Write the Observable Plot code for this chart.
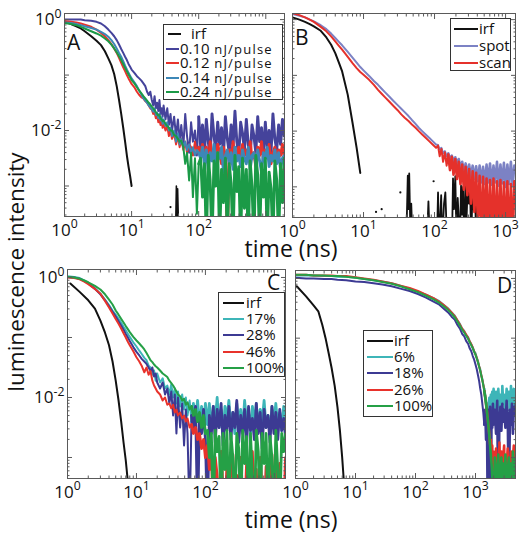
<!DOCTYPE html>
<html>
<head>
<meta charset="utf-8">
<script src="https://cdn.jsdelivr.net/npm/d3@7"></script>
<script src="https://cdn.jsdelivr.net/npm/@observablehq/plot@0.6"></script>
<style>
  html, body { margin: 0; padding: 0; background: #fff; }
  #fig { position: relative; width: 521px; height: 538px; overflow: hidden; font-family: "Open Sans", sans-serif; color: #111; background: #fff; }
  #fig > svg { position: absolute; left: 0; top: 0; }
  .legend { position: absolute; box-sizing: border-box; border: 1px solid #333; background: #fff; font-size: 15px; color: #111; }
  .legend .sw { position: absolute; height: 2px; }
  .legend .tx { position: absolute; white-space: nowrap; line-height: 14px; height: 14px; }
  .legend .unit { font-size: 13px; letter-spacing: 1.2px; }
</style>
</head>
<body>
<div id="fig"></div>
<script>
// ================= DATA (values in log10 of luminescence intensity) =================
// ---------- Panel A ----------
const A_t = [1, 1.25, 1.5, 1.75, 2, 2.5, 3, 3.5, 4, 4.5, 5, 5.5, 6, 6.5, 7, 7.5, 8, 8.5, 9, 9.5, 10,
  11, 12, 13, 14, 15, 16, 17, 18, 19, 20, 21, 22, 23, 24, 25, 26, 27, 28, 29, 30,
  32, 34, 36, 38, 40, 43, 46, 49, 52, 55, 59, 63, 67, 72, 77, 82, 88, 94, 100,
  107, 114, 122, 130, 139, 148, 158, 169, 180, 192, 205, 219, 234, 250, 267, 285, 304, 325, 347, 370,
  395, 422, 450, 480, 513, 547, 584, 623, 665, 710, 758, 809, 864, 922, 984, 1050, 1121, 1197, 1278, 1364,
  1456, 1554, 1659, 1771, 1890];
const A_irf_t = [1, 1.25, 1.5, 1.75, 2, 2.5, 3, 3.5, 4, 4.5, 5, 5.5, 6, 6.5, 7, 7.5, 8, 8.5, 9, 9.5, 10];
const A_irf = [-0.03, -0.08, -0.12, -0.16, -0.21, -0.3, -0.38, -0.46, -0.57, -0.7, -0.82, -0.98, -1.2, -1.45, -1.7, -1.95, -2.2, -2.45, -2.65, -2.82, -3.0];
const A_irfTail_t = [45, 46.5, 47.5, 48.5, 49.5, 51, 262, 267, 272];
const A_irfTail = [-4, -3.0, -3.8, -3.05, -3.5, -4, -4, -3.4, -4];
const A_irfDot_t = [38];
const A_irfDot = [-3.38];
const A_p010 = [0.0, 0.0, 0.0, 0.0, -0.01, -0.02, -0.04, -0.07, -0.12, -0.18, -0.24, -0.3, -0.37, -0.45, -0.53, -0.6, -0.67, -0.73, -0.8, -0.85, -0.9,
  -0.96, -1.02, -1.06, -1.1, -1.15, -1.2, -1.3, -1.36, -1.3, -1.45, -1.55, -1.38, -1.6, -1.5, -1.65, -1.45, -1.7, -1.6, -1.75, -1.55,
  -1.8, -1.6, -1.9, -1.7, -2.0, -1.75, -2.1, -1.8, -2.2, -1.9, -2.3, -1.7, -2.1, -2.4, -1.85, -2.2, -2.0, -2.45, -1.75,
  -2.3, -1.9, -2.4, -1.8, -2.2, -2.5, -1.7, -2.1, -2.35, -1.85, -2.25, -1.95, -2.45, -1.75, -2.15, -2.4, -1.9, -2.3, -1.65, -2.2,
  -2.45, -1.85, -2.05, -2.35, -1.8, -2.25, -2.5, -1.9, -2.1, -2.4, -1.75, -2.2, -1.95, -2.45, -1.85, -2.3, -2.0, -2.4, -1.7, -2.15,
  -2.35, -1.9, -2.25, -1.8, -2.1];
const A_p012 = [-0.03, -0.04, -0.05, -0.07, -0.09, -0.13, -0.18, -0.24, -0.3, -0.37, -0.44, -0.52, -0.6, -0.69, -0.78, -0.86, -0.93, -1.0, -1.06, -1.11, -1.16,
  -1.22, -1.3, -1.36, -1.4, -1.42, -1.47, -1.5, -1.55, -1.6, -1.62, -1.7, -1.68, -1.78, -1.72, -1.85, -1.8, -1.9, -1.82, -1.95, -1.88,
  -2.0, -1.92, -2.1, -2.0, -2.15, -2.05, -2.25, -2.1, -2.3, -2.15, -2.35, -2.2, -2.4, -2.25, -2.3, -2.45, -2.2, -2.4, -2.3,
  -2.4, -2.25, -2.5, -2.3, -2.6, -2.2, -2.45, -2.35, -2.55, -2.25, -2.4, -2.6, -2.3, -2.45, -4, -2.35, -2.55, -2.2, -2.5, -2.4,
  -2.3, -2.6, -2.25, -2.45, -2.35, -2.55, -2.2, -2.5, -2.4, -2.65, -2.3, -2.45, -2.2, -2.55, -2.35, -2.5, -2.25, -2.6, -2.4, -2.3,
  -2.5, -2.35, -2.45, -2.25, -2.5];
const A_p014 = [-0.05, -0.06, -0.08, -0.1, -0.12, -0.15, -0.18, -0.22, -0.26, -0.31, -0.37, -0.44, -0.52, -0.6, -0.67, -0.75, -0.83, -0.9, -0.96, -1.01, -1.06,
  -1.13, -1.2, -1.28, -1.35, -1.42, -1.46, -1.5, -1.55, -1.58, -1.62, -1.66, -1.6, -1.72, -1.68, -1.78, -1.7, -1.82, -1.76, -1.88, -1.8,
  -1.92, -1.85, -2.0, -1.95, -2.1, -2.0, -2.2, -2.05, -2.25, -2.15, -2.3, -2.2, -2.35, -2.25, -2.4, -2.3, -2.45, -2.35, -2.4,
  -2.5, -2.3, -2.6, -2.35, -2.7, -2.4, -2.55, -2.25, -2.65, -2.4, -2.5, -2.3, -2.75, -2.45, -2.35, -2.6, -2.4, -2.7, -2.3, -2.55,
  -2.45, -2.65, -2.35, -2.5, -2.6, -2.3, -2.7, -2.45, -2.4, -2.6, -2.35, -2.55, -2.75, -2.4, -2.5, -2.3, -2.65, -2.45, -2.55, -2.35,
  -2.6, -2.4, -2.7, -2.5, -2.45];
const A_p024 = [-0.06, -0.08, -0.1, -0.13, -0.16, -0.21, -0.25, -0.29, -0.34, -0.39, -0.45, -0.52, -0.59, -0.66, -0.73, -0.8, -0.87, -0.93, -0.99, -1.04, -1.09,
  -1.15, -1.22, -1.28, -1.33, -1.38, -1.42, -1.46, -1.5, -1.53, -1.57, -1.6, -1.63, -1.67, -1.7, -1.73, -1.72, -1.78, -1.8, -1.83, -1.82,
  -1.88, -1.92, -1.95, -2.0, -2.0, -2.08, -2.1, -2.15, -2.2, -2.18, -2.3, -2.6, -2.4, -2.9, -2.4, -3.2, -2.5, -3.5, -2.6,
  -2.5, -3.2, -2.6, -4, -2.45, -2.9, -4, -2.55, -3.0, -2.4, -4, -2.7, -3.3, -2.5, -4, -2.6, -2.95, -4, -2.45, -3.1,
  -2.65, -4, -2.5, -3.4, -2.7, -4, -2.55, -3.0, -4, -2.45, -2.8, -4, -2.6, -3.2, -2.5, -4, -2.75, -3.05, -4, -2.55,
  -2.9, -4, -2.6, -3.3, -2.5];
const A_names = ["irf", "0.10", "0.12", "0.14", "0.24"];
const A_unit = "nJ/pulse";
const A_xTicks = [1, 10, 100];
const A_xTickLabels = ["10^0", "10^1", "10^2"];
const A_yTicks = [1, 0.01];
const A_yTickLabels = ["10^0", "10^-2"];

// ---------- Panel B ----------
const B_t = [1, 1.25, 1.5, 1.75, 2, 2.5, 3, 3.5, 4, 4.5, 5, 6, 7, 8, 9, 10,
  12, 14, 16, 18, 20, 23, 26, 30, 34, 38, 43, 48, 54, 60, 67, 75, 84, 94, 105,
  112, 118, 125, 132, 140, 148, 156, 165, 175, 185, 196, 207, 219, 232, 245, 259, 274, 290, 307, 325,
  344, 364, 385, 407, 431, 456, 482, 510, 540, 571, 604, 639, 676, 715, 757, 801, 847, 896, 948, 1003,
  1061, 1123, 1188, 1257, 1330];
const B_irf_t = [1, 1.25, 1.5, 1.75, 2, 2.5, 3, 3.5, 4, 4.5, 5, 6, 7, 8, 9];
const B_irf = [0.04, 0.0, -0.04, -0.08, -0.12, -0.2, -0.32, -0.45, -0.6, -0.77, -0.93, -1.35, -1.85, -2.3, -2.75];
const B_irfTail_t = [40, 42, 43, 44, 46, 47, 49, 78, 82, 86, 108, 112, 116, 124, 128, 136, 142, 150, 176, 182, 188, 196, 204, 212,
  228, 236, 244, 252, 262, 272, 282, 292, 304, 316, 328, 342, 356, 370, 386, 402, 420, 440, 462, 490, 520, 560, 600, 640];
const B_irfTail = [-4, -2.8, -3.4, -2.76, -4, -3.3, -4, -4, -3.26, -4, -4, -3.1, -4, -3.15, -4, -3.3, -3.1, -4, -4, -2.85, -3.4, -2.81, -4, -3.2,
  -4, -2.98, -3.5, -3.0, -4, -2.95, -3.6, -3.05, -3.3, -2.98, -4, -3.1, -3.4, -3.0, -4, -3.15, -3.5, -3.1, -4, -3.3, -4, -3.35, -4, -4];
const B_irfDot_t = [15, 18, 33, 97];
const B_irfDot = [-3.45, -3.4, -3.1, -2.9];
const B_spot = [0.1, 0.07, 0.04, 0.0, -0.03, -0.1, -0.17, -0.25, -0.33, -0.4, -0.46, -0.58, -0.68, -0.77, -0.85, -0.91,
  -1.01, -1.1, -1.17, -1.24, -1.3, -1.38, -1.45, -1.53, -1.6, -1.66, -1.73, -1.8, -1.87, -1.94, -2.0, -2.06, -2.12, -2.18, -2.24,
  -2.25, -2.33, -2.3, -2.4, -2.36, -2.45, -2.4, -2.5, -2.44, -2.55, -2.47, -2.6, -2.5, -2.66, -2.55, -2.72, -2.58, -2.78, -2.6, -2.82,
  -2.62, -2.86, -2.63, -2.9, -2.62, -2.92, -2.64, -2.95, -2.6, -2.92, -2.58, -2.96, -2.62, -2.92, -2.55, -2.98, -2.6, -2.94, -2.57, -3.0,
  -2.6, -2.95, -2.55, -2.97, -2.62];
const B_scan = [0.12, 0.08, 0.04, 0.0, -0.04, -0.13, -0.21, -0.3, -0.39, -0.47, -0.54, -0.67, -0.78, -0.87, -0.94, -0.99,
  -1.08, -1.17, -1.26, -1.33, -1.39, -1.47, -1.54, -1.62, -1.7, -1.76, -1.82, -1.88, -1.94, -2.0, -2.06, -2.12, -2.18, -2.24, -2.3,
  -2.26, -2.45, -2.32, -2.55, -2.38, -2.62, -2.42, -2.7, -2.46, -2.78, -2.5, -2.86, -2.55, -2.95, -2.6, -3.05, -2.64, -3.15, -2.68, -3.3,
  -2.72, -3.45, -2.75, -3.6, -2.8, -4, -2.82, -3.7, -2.85, -4, -2.88, -4, -2.85, -4, -2.9, -4, -2.88, -4, -2.92, -4,
  -2.9, -4, -2.95, -4, -2.9];
const B_names = ["irf", "spot", "scan"];
const B_xTicks = [1, 10, 100, 1000];
const B_xTickLabels = ["10^0", "10^1", "10^2", "10^3"];

// ---------- Panel C ----------
const C_t = [1, 1.25, 1.5, 1.75, 2, 2.5, 3, 3.5, 4, 4.5, 5, 5.5, 6, 6.5, 7, 7.5, 8, 9, 10,
  11, 12, 13, 14, 15, 16, 17, 18, 19, 20, 22, 24, 26, 28, 30,
  32, 34, 36, 38, 40, 43, 46, 49, 52, 55, 59, 63, 67, 72, 77, 82, 88, 94, 100,
  107, 114, 122, 130, 139, 148, 158, 169, 180, 192, 205, 219, 234, 250, 267, 285, 304, 325, 347, 370,
  395, 422, 450, 480, 513, 547, 584, 623, 665, 710, 758, 809, 864, 922, 984, 1050, 1121, 1197, 1278, 1364, 1450];
const C_irf_t = [1.1, 1.5, 2, 2.5, 3, 3.5, 4, 4.5, 5, 5.5, 6, 6.5, 7, 7.5, 8];
const C_irf = [-0.1, -0.24, -0.38, -0.52, -0.72, -0.92, -1.13, -1.4, -1.72, -2.05, -2.4, -2.75, -3.05, -3.4, -3.8];
const C_17 = [0.02, 0.01, -0.01, -0.05, -0.09, -0.18, -0.27, -0.37, -0.46, -0.55, -0.62, -0.69, -0.75, -0.82, -0.88, -0.94, -0.99, -1.08, -1.15,
  -1.22, -1.28, -1.34, -1.38, -1.47, -1.5, -1.62, -1.55, -1.72, -1.6, -1.75, -1.68, -1.85, -1.8, -1.95,
  -1.78, -2.0, -1.85, -2.1, -1.9, -2.15, -1.95, -2.2, -2.0, -2.3, -2.05, -2.4, -2.1, -2.35, -2.05, -2.45, -2.15, -2.5, -2.1,
  -2.45, -2.1, -2.55, -2.15, -2.4, -2.0, -2.5, -2.2, -2.6, -2.15, -2.35, -2.05, -2.5, -2.25, -2.6, -2.1, -2.45, -2.2, -2.55, -2.05,
  -2.4, -2.25, -2.6, -2.15, -2.45, -2.1, -2.55, -2.2, -2.4, -2.05, -2.5, -2.3, -2.6, -2.15, -2.45, -2.1, -2.5, -2.25, -2.55, -2.15, -2.4];
const C_28 = [0.01, 0.0, -0.02, -0.06, -0.1, -0.19, -0.28, -0.38, -0.48, -0.57, -0.65, -0.73, -0.8, -0.87, -0.94, -1.0, -1.06, -1.16, -1.24,
  -1.3, -1.36, -1.4, -1.44, -1.5, -1.56, -1.5, -1.65, -1.6, -1.75, -1.85, -1.75, -1.95, -1.85, -2.1,
  -1.9, -2.3, -1.95, -2.6, -2.0, -2.5, -2.1, -2.8, -2.2, -2.6, -4, -2.3, -2.5, -2.15, -4, -2.3, -2.6, -2.2, -2.7,
  -4, -2.3, -2.6, -2.15, -2.75, -2.2, -2.5, -2.1, -2.8, -2.3, -2.55, -2.15, -2.7, -2.25, -2.5, -2.05, -2.75, -2.3, -2.6, -2.2,
  -2.8, -2.15, -2.55, -2.35, -2.7, -2.1, -2.6, -2.25, -2.85, -2.2, -2.5, -2.3, -2.75, -2.15, -2.6, -2.25, -2.7, -2.2, -2.55, -2.35, -2.65];
const C_46 = [0.0, -0.01, -0.03, -0.07, -0.11, -0.19, -0.27, -0.39, -0.5, -0.6, -0.69, -0.77, -0.85, -0.93, -1.0, -1.07, -1.13, -1.23, -1.33,
  -1.4, -1.48, -1.58, -1.5, -1.62, -1.56, -1.72, -1.8, -1.85, -1.9, -1.95, -2.05, -2.0, -2.12, -2.1,
  -2.18, -2.12, -2.25, -2.2, -2.3, -2.25, -2.35, -2.3, -2.4, -2.35, -2.5, -2.45, -2.6, -2.5, -2.7, -2.6, -2.85, -2.7, -3.0,
  -2.8, -3.2, -2.9, -4, -3.0, -3.3, -4, -2.9, -3.5, -4, -3.1, -4, -3.2, -2.95, -4, -3.3, -4, -3.0, -3.6, -4,
  -3.1, -4, -3.4, -2.9, -4, -3.2, -4, -3.0, -3.5, -4, -3.15, -4, -3.3, -2.95, -4, -3.2, -4, -3.1, -3.6, -4, -3.0];
const C_100 = [0.01, 0.0, -0.02, -0.05, -0.08, -0.14, -0.2, -0.28, -0.37, -0.45, -0.55, -0.62, -0.69, -0.75, -0.81, -0.86, -0.91, -0.99, -1.05,
  -1.1, -1.15, -1.2, -1.26, -1.32, -1.38, -1.41, -1.45, -1.48, -1.5, -1.55, -1.6, -1.63, -1.66, -1.72,
  -1.76, -1.8, -1.85, -1.9, -1.95, -1.98, -2.05, -2.02, -2.12, -2.08, -2.2, -2.15, -2.3, -2.2, -2.4, -2.25, -2.5, -2.3, -2.6,
  -2.55, -3.0, -2.6, -4, -2.55, -2.9, -2.65, -4, -2.6, -3.2, -2.55, -4, -2.6, -3.0, -4, -2.6, -2.85, -4, -2.55, -3.1,
  -2.65, -4, -2.6, -3.3, -4, -2.55, -2.9, -4, -2.6, -3.1, -2.6, -4, -2.65, -3.0, -4, -2.55, -3.2, -4, -2.6, -2.9, -2.6];
const C_names = ["irf", "17%", "28%", "46%", "100%"];
const C_xTicks = [1, 10, 100];
const C_xTickLabels = ["10^0", "10^1", "10^2"];
const C_yTicks = [1, 0.01];
const C_yTickLabels = ["10^0", "10^-2"];

// ---------- Panel D ----------
const D_t = [1, 1.5, 2, 3, 4, 5, 7, 10, 14, 20, 28, 40, 56, 80, 110, 150,
  200, 250, 300, 350, 400, 450, 500, 550, 600, 650, 700, 750, 800, 850, 900, 950, 1000, 1050, 1100, 1150,
  1200, 1250, 1300, 1350, 1400, 1450, 1500, 1550, 1600, 1650, 1700, 1750, 1800, 1850, 1900, 1950, 2000,
  2100, 2200, 2300, 2400, 2500, 2600, 2700, 2800, 2900, 3000,
  3150, 3300, 3450, 3600, 3750, 3900, 4050, 4200, 4350, 4500, 4700];
const D_irf_t = [1.05, 1.5, 2, 2.4, 2.8, 3.2, 3.6, 4, 4.5, 5, 5.5, 6, 6.5];
const D_irf = [-0.13, -0.3, -0.45, -0.55, -0.78, -1.02, -1.27, -1.5, -1.8, -2.15, -2.55, -3.0, -3.5];
const D_6 = [0.05, 0.05, 0.05, 0.04, 0.04, 0.03, 0.03, 0.01, -0.01, -0.03, -0.05, -0.08, -0.12, -0.17, -0.22, -0.27,
  -0.33, -0.38, -0.45, -0.5, -0.57, -0.62, -0.7, -0.76, -0.84, -0.88, -0.95, -0.98, -1.05, -1.1, -1.15, -1.22, -1.25, -1.33, -1.38, -1.47,
  -1.52, -1.62, -1.68, -1.78, -1.85, -1.97, -2.05, -2.2, -2.1, -2.35, -2.0, -2.4, -1.95, -2.3, -1.9, -2.25, -1.85,
  -2.2, -1.9, -2.3, -1.85, -2.15, -1.95, -2.35, -1.8, -2.1, -1.95,
  -2.25, -1.85, -2.05, -1.9, -2.3, -1.8, -2.1, -2.0, -1.85, -2.2, -1.9];
const D_18 = [0.01, 0.0, 0.0, -0.01, -0.01, -0.02, -0.03, -0.05, -0.06, -0.08, -0.1, -0.13, -0.17, -0.21, -0.26, -0.32,
  -0.39, -0.44, -0.51, -0.57, -0.64, -0.69, -0.78, -0.84, -0.93, -0.97, -1.05, -1.09, -1.17, -1.22, -1.3, -1.36, -1.44, -1.52, -1.62, -1.72,
  -1.85, -1.95, -2.1, -2.25, -2.45, -2.2, -2.7, -2.3, -4, -2.2, -2.6, -2.15, -4, -2.3, -2.5, -2.1, -2.45,
  -2.2, -2.6, -2.05, -4, -2.35, -2.15, -2.55, -2.1, -2.4, -2.2,
  -2.5, -2.05, -2.35, -4, -2.2, -2.45, -2.1, -2.6, -2.15, -2.3, -2.1];
const D_26 = [0.06, 0.06, 0.05, 0.05, 0.05, 0.04, 0.04, 0.02, 0.0, -0.02, -0.05, -0.08, -0.12, -0.16, -0.21, -0.27,
  -0.33, -0.39, -0.45, -0.51, -0.57, -0.63, -0.7, -0.77, -0.84, -0.89, -0.94, -0.99, -1.05, -1.1, -1.16, -1.22, -1.27, -1.33, -1.4, -1.47,
  -1.54, -1.62, -1.7, -1.78, -1.88, -1.98, -2.1, -2.22, -2.35, -2.48, -2.62, -2.78, -2.7, -3.0, -2.8, -3.4, -2.9,
  -4, -2.85, -3.2, -4, -2.75, -3.5, -2.9, -4, -3.0, -2.8,
  -4, -3.1, -2.85, -4, -3.3, -2.9, -4, -3.0, -2.8, -4, -3.2];
const D_100 = [0.06, 0.06, 0.05, 0.05, 0.04, 0.04, 0.03, 0.01, -0.01, -0.03, -0.06, -0.09, -0.13, -0.18, -0.23, -0.29,
  -0.35, -0.41, -0.47, -0.53, -0.59, -0.65, -0.72, -0.79, -0.86, -0.91, -0.96, -1.01, -1.07, -1.12, -1.17, -1.23, -1.28, -1.34, -1.41, -1.48,
  -1.55, -1.63, -1.71, -1.79, -1.89, -1.99, -2.11, -2.23, -2.36, -2.49, -2.64, -2.8, -2.95, -3.1, -3.3, -3.5, -4,
  -3.0, -4, -3.2, -2.95, -4, -3.4, -3.0, -4, -3.1, -4,
  -2.95, -4, -3.2, -3.0, -4, -3.1, -4, -2.9, -3.3, -4, -3.0];
const D_names = ["irf", "6%", "18%", "26%", "100%"];
const D_xTicks = [1, 10, 100, 1000];
const D_xTickLabels = ["10^0", "10^1", "10^2", "10^3"];

// ---------- Colours ----------
const IRF = "#111111";
const A_colors = [IRF, "#45439b", "#e8322b", "#3d87b7", "#1b9a47"];
const B_colors = [IRF, "#7c82c4", "#e5312b"];
const CD_colors = [IRF, "#3db5b8", "#3c3a93", "#e8322b", "#25a046"];
const FRAME = "#5a5a5a";

// ================= DRAWING =================
const W = 521, H = 538;
const fig = document.getElementById("fig");

function rows(times, logs) {
  return times.map((t, i) => ({t, v: logs[i] == null ? NaN : Math.pow(10, logs[i])}));
}
function decades([a, b]) {
  const out = [];
  for (let e = Math.floor(Math.log10(a)); e <= Math.ceil(Math.log10(b)); e++) {
    const v = Math.pow(10, e);
    if (v >= a * 0.999 && v <= b * 1.001) out.push(v);
  }
  return out;
}
function minors([a, b]) {
  const out = [];
  for (let e = Math.floor(Math.log10(a)); e <= Math.ceil(Math.log10(b)); e++)
    for (let m = 2; m <= 9; m++) { const v = m * Math.pow(10, e); if (v > a && v < b) out.push(v); }
  return out;
}

function panel(p) {
  const tk = {stroke: FRAME, fill: "none", label: null};
  const xMaj = decades(p.xDomain), yMaj = decades(p.yDomain);
  const xMin = minors(p.xDomain), yMin = minors(p.yDomain);
  const xl = new Map(p.xTicks.map((v, i) => [v, p.xTickLabels[i]]));
  const yl = new Map((p.yTicks || []).map((v, i) => [v, p.yTickLabels[i]]));
  const marks = [];
  p.lines.forEach(s => {
    const r = rows(s.t, s.v);
    const w = s.w || 2;
    if (p.tailFrom && !s.w) {
      // the noisy photon-counting tail is drawn with a slightly heavier pen
      const k = r.findIndex(d => d.t >= p.tailFrom);
      marks.push(Plot.line(r.slice(0, k + 1), {x: "t", y: "v", stroke: s.color, strokeWidth: w, clip: true}));
      marks.push(Plot.line(r.slice(k), {x: "t", y: "v", stroke: s.color, strokeWidth: p.tailWidth, clip: true}));
    } else {
      marks.push(Plot.line(r, {x: "t", y: "v", stroke: s.color, strokeWidth: w, clip: true}));
    }
  });
  (p.dots || []).forEach(s => marks.push(Plot.dot(rows(s.t, s.v), {x: "t", y: "v", r: 1.1, fill: s.color, stroke: null, clip: true})));
  marks.push(
    Plot.frame({stroke: FRAME, strokeWidth: 1}),
    Plot.axisX(xMaj, {anchor: "bottom", tickSize: -5, ...tk}),
    Plot.axisX(xMaj, {anchor: "top", tickSize: -5, ...tk}),
    Plot.axisX(xMin, {anchor: "bottom", tickSize: -2.5, ...tk}),
    Plot.axisX(xMin, {anchor: "top", tickSize: -2.5, ...tk}),
    Plot.axisY(yMaj, {anchor: "left", tickSize: -5, ...tk}),
    Plot.axisY(yMaj, {anchor: "right", tickSize: -5, ...tk}),
    Plot.axisY(yMin, {anchor: "left", tickSize: -2.5, ...tk}),
    Plot.axisY(yMin, {anchor: "right", tickSize: -2.5, ...tk}),
    Plot.axisX(p.xTicks, {anchor: "bottom", tickSize: 0, tickPadding: 7, tickFormat: d => xl.get(d), label: null, fill: "#111"})
  );
  if (p.yTicks) marks.push(Plot.axisY(p.yTicks, {anchor: "left", tickSize: 0, tickPadding: 3, tickFormat: d => yl.get(d), label: null, fill: "#111"}));
  const svg = Plot.plot({
    width: W, height: H,
    marginLeft: p.left, marginRight: W - p.right, marginTop: p.top, marginBottom: H - p.bottom,
    x: {type: "log", domain: p.xDomain},
    y: {type: "log", domain: p.yDomain},
    style: {background: "none", fontFamily: "'Open Sans', sans-serif", fontSize: "17px", color: "#111", overflow: "visible"},
    marks
  });
  // superscript exponents on tick labels
  d3.select(svg).selectAll("text").each(function () {
    const m = this.textContent.match(/^10\^(.+)$/);
    if (!m) return;
    this.textContent = "10";
    const ts = document.createElementNS("http://www.w3.org/2000/svg", "tspan");
    ts.setAttribute("dy", "-0.6em");
    ts.setAttribute("font-size", "0.72em");
    ts.textContent = m[1];
    this.appendChild(ts);
  });
  fig.appendChild(svg);
}

const YD_AB = [Math.pow(10, -3.55), Math.pow(10, 0.11)];
const YD_CD = [Math.pow(10, -3.35), Math.pow(10, 0.133)];

panel({left: 64, right: 284, top: 13, bottom: 216, xDomain: [1, 1900], yDomain: YD_AB,
  xTicks: A_xTicks, xTickLabels: A_xTickLabels, yTicks: A_yTicks, yTickLabels: A_yTickLabels,
  tailFrom: 100, tailWidth: 2.9,
  lines: [
    {t: A_irf_t, v: A_irf, color: A_colors[0], w: 2},
    {t: A_irfTail_t, v: A_irfTail, color: A_colors[0], w: 1.6},
    {t: A_t, v: A_p010, color: A_colors[1]},
    {t: A_t, v: A_p012, color: A_colors[2]},
    {t: A_t, v: A_p014, color: A_colors[3]},
    {t: A_t, v: A_p024, color: A_colors[4]}
  ],
  dots: [{t: A_irfDot_t, v: A_irfDot, color: IRF}]
});
panel({left: 292, right: 515, top: 13, bottom: 217, xDomain: [1, 1380], yDomain: YD_AB,
  xTicks: B_xTicks, xTickLabels: B_xTickLabels,
  tailFrom: 150, tailWidth: 2.6,
  lines: [
    {t: B_irf_t, v: B_irf, color: B_colors[0], w: 2},
    {t: B_irfTail_t, v: B_irfTail, color: B_colors[0], w: 1.8},
    {t: B_t, v: B_spot, color: B_colors[1]},
    {t: B_t, v: B_scan, color: B_colors[2]}
  ],
  dots: [{t: B_irfDot_t, v: B_irfDot, color: IRF}]
});
panel({left: 67, right: 285, top: 269, bottom: 478, xDomain: [1, 1450], yDomain: YD_CD,
  xTicks: C_xTicks, xTickLabels: C_xTickLabels, yTicks: C_yTicks, yTickLabels: C_yTickLabels,
  tailFrom: 60, tailWidth: 2.8,
  lines: [
    {t: C_irf_t, v: C_irf, color: CD_colors[0], w: 2},
    {t: C_t, v: C_17, color: CD_colors[1]},
    {t: C_t, v: C_28, color: CD_colors[2]},
    {t: C_t, v: C_46, color: CD_colors[3]},
    {t: C_t, v: C_100, color: CD_colors[4]}
  ]
});
panel({left: 295, right: 515, top: 270, bottom: 478, xDomain: [1, 4640], yDomain: YD_CD,
  xTicks: D_xTicks, xTickLabels: D_xTickLabels,
  tailFrom: 1400, tailWidth: 2.6,
  lines: [
    {t: D_irf_t, v: D_irf, color: CD_colors[0], w: 2},
    {t: D_t, v: D_6, color: CD_colors[1]},
    {t: D_t, v: D_18, color: CD_colors[2]},
    {t: D_t, v: D_26, color: CD_colors[3]},
    {t: D_t, v: D_100, color: CD_colors[4]}
  ]
});

// ---------- Legends ----------
function legend(box, names, colors, unit) {
  const div = document.createElement("div");
  div.className = "legend";
  Object.assign(div.style, {left: box.left + "px", top: box.top + "px", width: box.width + "px", height: box.height + "px"});
  names.forEach((name, i) => {
    const cy = box.row0 + i * box.dy;
    const first = i === 0 && box.irf;
    const x0 = first ? box.irf.x0 : box.x0, x1 = first ? box.irf.x1 : box.x1, tx = first ? box.irf.tx : box.tx;
    const sw = document.createElement("div");
    sw.className = "sw";
    Object.assign(sw.style, {left: x0 + "px", width: (x1 - x0) + "px", top: (cy - 1) + "px", background: colors[i]});
    div.appendChild(sw);
    const t = document.createElement("div");
    t.className = "tx";
    t.style.left = tx + "px";
    t.style.top = (cy - 8) + "px";
    t.textContent = name;
    if (unit && i > 0) {
      const u = document.createElement("span");
      u.className = "unit";
      u.textContent = " " + unit;
      t.appendChild(u);
    }
    div.appendChild(t);
  });
  fig.appendChild(div);
}
legend({left: 163, top: 24, width: 120, height: 76, row0: 9, dy: 14.5, x0: 2, x1: 15, tx: 16, irf: {x0: 4, x1: 17, tx: 27}}, A_names, A_colors, A_unit);
legend({left: 450, top: 18, width: 61, height: 53, row0: 10, dy: 17, x0: 3, x1: 27, tx: 28}, B_names, B_colors);
legend({left: 218, top: 292, width: 67, height: 85, row0: 10, dy: 16.2, x0: 4, x1: 25, tx: 27}, C_names, CD_colors);
legend({left: 363, top: 330, width: 70, height: 87, row0: 10, dy: 16.2, x0: 3, x1: 29, tx: 30}, D_names, CD_colors);

// ---------- Titles and panel letters ----------
const ns = "http://www.w3.org/2000/svg";
const ov = document.createElementNS(ns, "svg");
ov.setAttribute("width", W); ov.setAttribute("height", H);
ov.style.pointerEvents = "none";
const texts = [
  {s: "luminescence intensity", x: 24, y: 272, size: 22.5, anchor: "middle", rot: -90},
  {s: "time (ns)", x: 291, y: 257, size: 23, anchor: "middle"},
  {s: "time (ns)", x: 291, y: 528, size: 23, anchor: "middle"},
  {s: "A", x: 67, y: 50, size: 21, anchor: "start"},
  {s: "B", x: 295, y: 45, size: 21, anchor: "start"},
  {s: "C", x: 267, y: 290, size: 21, anchor: "start"},
  {s: "D", x: 497, y: 293, size: 21, anchor: "start"}
];
texts.forEach(d => {
  const t = document.createElementNS(ns, "text");
  t.setAttribute("transform", `translate(${d.x},${d.y})` + (d.rot ? ` rotate(${d.rot})` : ""));
  t.setAttribute("text-anchor", d.anchor);
  t.setAttribute("font-family", "'Open Sans', sans-serif");
  t.setAttribute("font-size", d.size);
  t.setAttribute("fill", "#111");
  t.textContent = d.s;
  ov.appendChild(t);
});
fig.appendChild(ov);
</script>
</body>
</html>
